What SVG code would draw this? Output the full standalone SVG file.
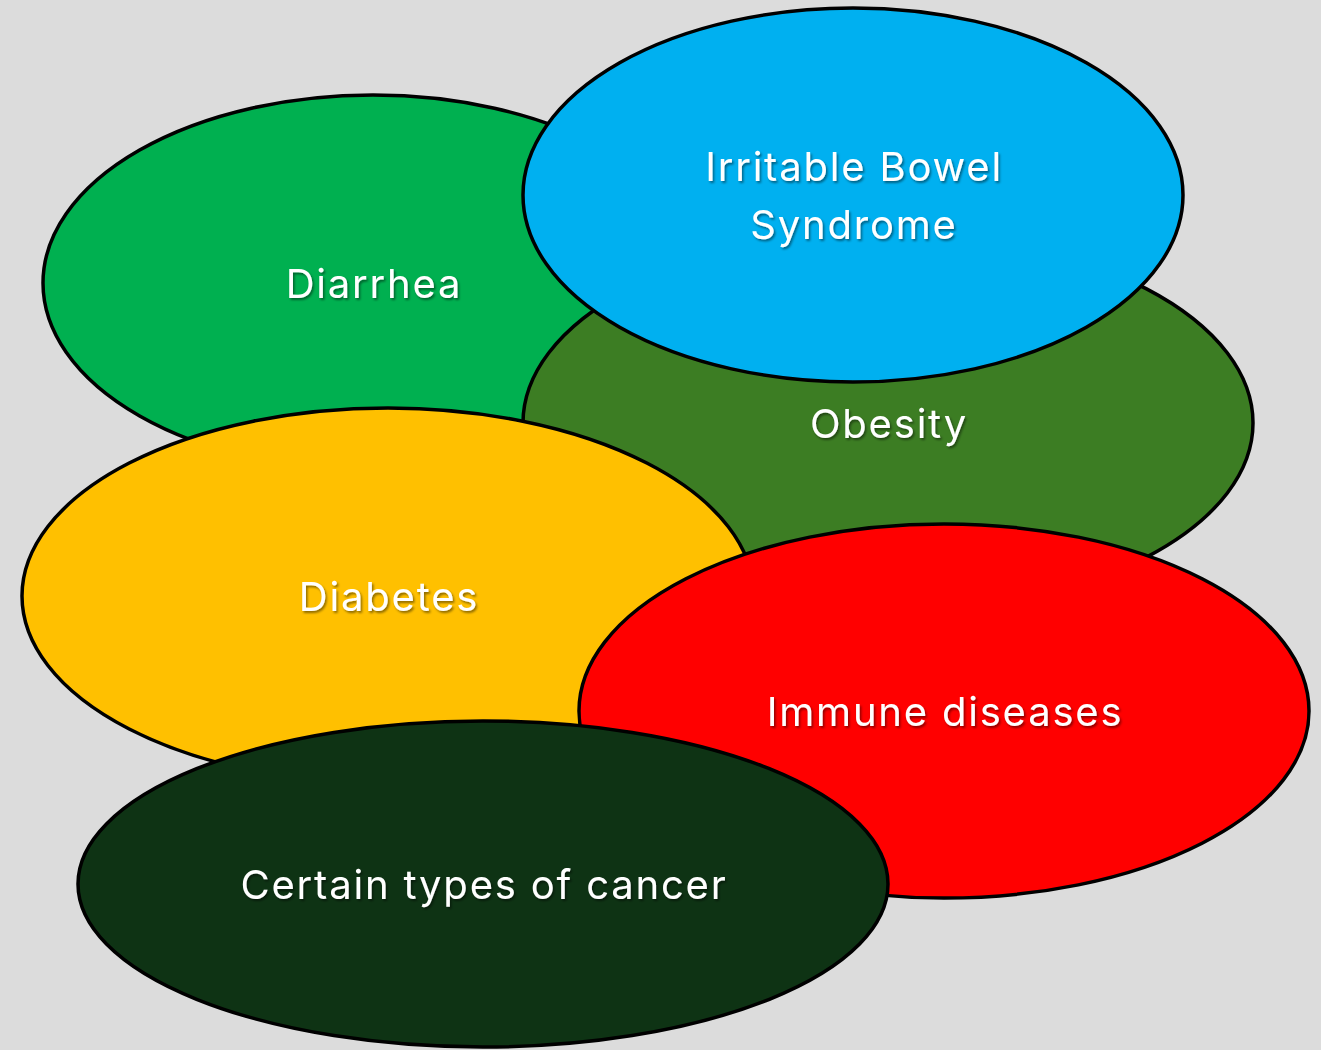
<svg xmlns="http://www.w3.org/2000/svg" width="1321" height="1050" viewBox="0 0 1321 1050">
<defs>
<style>
.n{stroke:#000;stroke-width:3.5}
.t{font-family:Inter,"Open Sans","Liberation Sans",sans-serif;font-size:40px;letter-spacing:1.8px;fill:#fff;text-anchor:middle;filter:url(#sh)}
</style>
<filter id="sh" x="-10%" y="-30%" width="120%" height="160%">
<feDropShadow dx="1.5" dy="2" stdDeviation="1.2" flood-color="#000" flood-opacity="0.45"/>
</filter>
</defs>
<rect width="1321" height="1050" fill="#dcdcdc"/>
<g id="connectors"/>
<g id="diarrhea"><ellipse class="n" cx="373" cy="283" rx="330" ry="188" fill="#00b050"/><text class="t" x="374" y="298">Diarrhea</text></g>
<g id="obesity"><ellipse class="n" cx="888" cy="423" rx="365" ry="190" fill="#3c7d23"/><text class="t" x="889" y="438">Obesity</text></g>
<g id="ibs"><ellipse class="n" cx="853" cy="195" rx="330" ry="187" fill="#00b0f0"/><text class="t" x="854" y="181">Irritable Bowel</text><text class="t" x="854" y="239">Syndrome</text></g>
<g id="diabetes"><ellipse class="n" cx="388" cy="596" rx="366" ry="188" fill="#ffc000"/><text class="t" x="389" y="611">Diabetes</text></g>
<g id="immune"><ellipse class="n" cx="944" cy="711" rx="365" ry="187" fill="#ff0000"/><text class="t" x="945" y="726">Immune diseases</text></g>
<g id="cancer"><ellipse class="n" cx="483" cy="884" rx="405" ry="163" fill="#0e3314"/><text class="t" x="484" y="899">Certain types of cancer</text></g>
</svg>
